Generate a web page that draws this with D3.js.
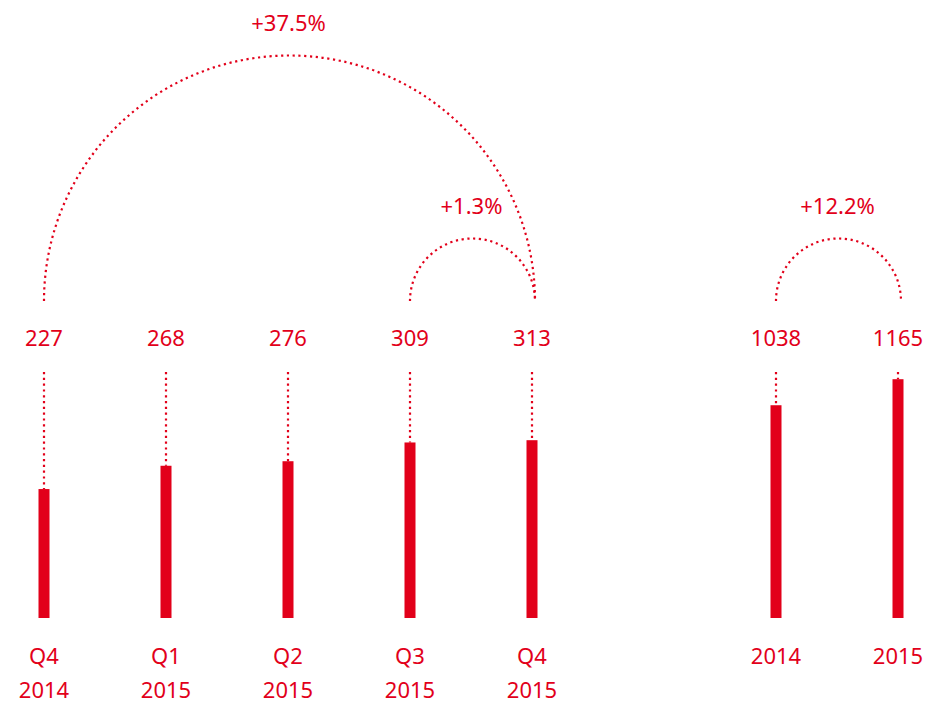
<!DOCTYPE html>
<html><head><meta charset="utf-8">
<script src="https://cdn.jsdelivr.net/npm/d3@7"></script>
<style>
html,body{margin:0;padding:0;background:#fff;}
text{font-family:"Noto Sans",sans-serif;fill:#e2001a;}
</style></head>
<body>
<svg id="c" width="944" height="724"></svg>
<script>
const quarterLabels = [["Q4","2014"],["Q1","2015"],["Q2","2015"],["Q3","2015"],["Q4","2015"]];
const quarterValues = [227, 268, 276, 309, 313];
const annualLabels = [["2014"],["2015"]];
const annualValues = [1038, 1165];
const changes = [
  {from:"Q4 2014", to:"Q4 2015", label:"+37.5%"},
  {from:"Q3 2015", to:"Q4 2015", label:"+1.3%"},
  {from:"2014", to:"2015", label:"+12.2%"}
];

const red = "#e2001a";
const svg = d3.select("#c");
const keys = quarterLabels.map(d=>d.join(" ")).concat(["gap"]).concat(annualLabels.map(d=>d.join(" ")));
const x = d3.scalePoint().domain(keys).range([44, 898]);
const base = 618;
const yQ = d3.scaleLinear().domain([0, 313]).range([base, base - 177.8]);
const yA = d3.scaleLinear().domain([0, 1165]).range([base, base - 238.8]);

const bars = quarterLabels.map((l,i)=>({key:l.join(" "), lines:l, value:quarterValues[i], y:yQ}))
  .concat(annualLabels.map((l,i)=>({key:l.join(" "), lines:l, value:annualValues[i], y:yA})));

const barW = 11;
const g = svg.append("g");
// dotted guides
g.selectAll("line.guide").data(bars).join("line")
  .attr("x1", d=>x(d.key)).attr("x2", d=>x(d.key))
  .attr("y1", 372).attr("y2", d=>d.y(d.value))
  .attr("stroke", red).attr("stroke-width", 2.2).attr("stroke-dasharray", "2.2,3.6");
// bars
g.selectAll("rect.bar").data(bars).join("rect")
  .attr("x", d=>x(d.key)-barW/2).attr("width", barW)
  .attr("y", d=>d.y(d.value)).attr("height", d=>base - d.y(d.value))
  .attr("fill", red);
// value labels
g.selectAll("text.val").data(bars).join("text")
  .attr("x", d=>x(d.key)).attr("y", 346).attr("text-anchor","middle")
  .attr("font-size", 22).text(d=>d.value);
// category labels
bars.forEach(d=>{
  const lines = d.lines.length === 2 ? d.lines : [d.lines[0]];
  lines.forEach((t,j)=>{
    g.append("text").attr("x", x(d.key)).attr("y", 664 + j*34)
      .attr("text-anchor","middle").attr("font-size", 22).text(t);
  });
});
// arcs
const arcBase = 301;
changes.forEach(c=>{
  const x0 = x(c.from), x1 = x(c.to) + 3;
  const cx = (x0+x1)/2, r = (x1-x0)/2;
  const p = d3.path();
  p.moveTo(x0, arcBase);
  p.arc(cx, arcBase, r, Math.PI, 2*Math.PI);
  g.append("path").attr("d", p.toString()).attr("fill","none")
    .attr("stroke", red).attr("stroke-width", 2.2).attr("stroke-dasharray","2.2,3.6");
  g.append("text").attr("x", cx - 1).attr("y", arcBase - r - 25)
    .attr("text-anchor","middle").attr("font-size", 22).text(c.label);
});
</script>
</body></html>
